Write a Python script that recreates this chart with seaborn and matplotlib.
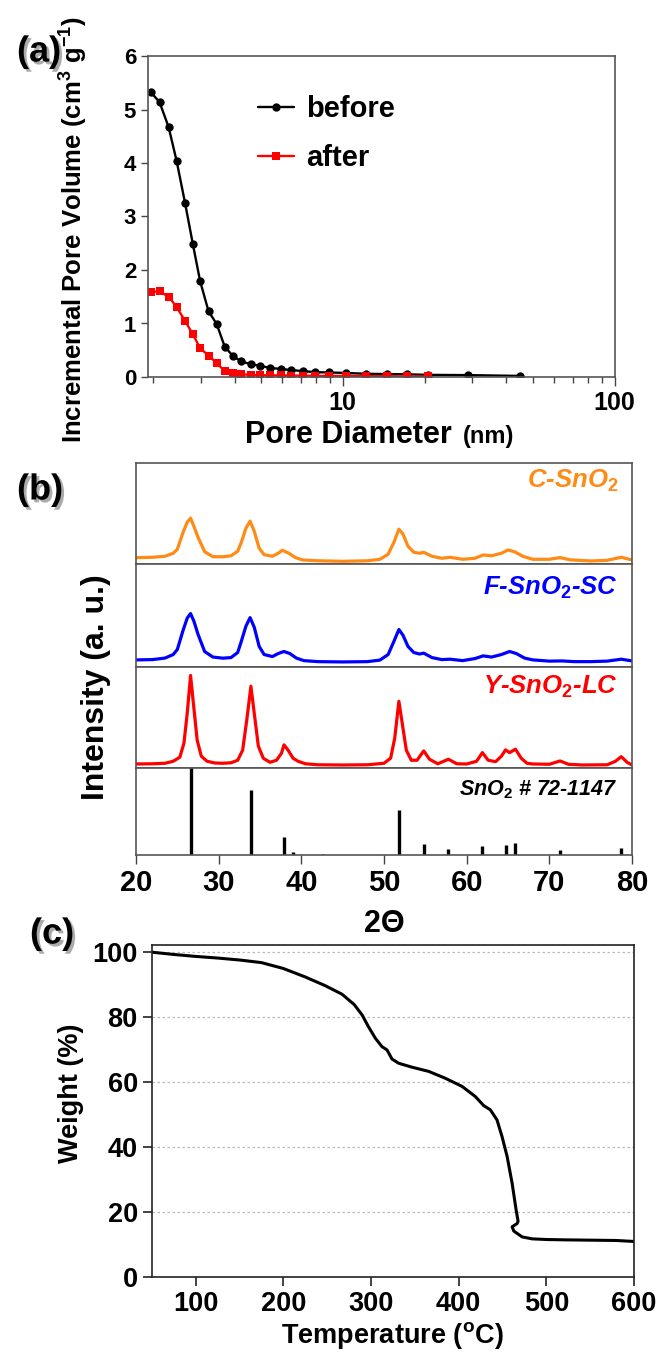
import matplotlib
matplotlib.use("Agg")
import matplotlib.pyplot as plt
import matplotlib.patheffects as pe
from matplotlib.ticker import FixedLocator, FixedFormatter, NullFormatter, LogLocator
import seaborn as sns

# (a) pore size distribution
before_d = [1.97, 2.12, 2.29, 2.45, 2.63, 2.81, 2.99, 3.21, 3.44, 3.68, 3.95, 4.24, 4.59,
            4.95, 5.41, 5.92, 6.47, 7.16, 7.92, 8.9, 10.3, 12.2, 14.5, 17.2, 20.6, 29.0, 44.9]
before_v = [5.32, 5.14, 4.67, 4.04, 3.26, 2.49, 1.79, 1.23, 0.99, 0.57, 0.39, 0.29, 0.24,
            0.21, 0.17, 0.15, 0.13, 0.11, 0.09, 0.085, 0.075, 0.06, 0.055, 0.05, 0.04, 0.035, 0.02]
after_d = [1.97, 2.12, 2.29, 2.45, 2.63, 2.81, 2.99, 3.21, 3.44, 3.68, 3.95, 4.24, 4.59,
           4.95, 5.41, 5.92, 6.47, 7.16, 7.92, 8.9, 10.3, 12.2, 14.5, 17.2, 20.6]
after_v = [1.59, 1.60, 1.50, 1.31, 1.05, 0.80, 0.54, 0.40, 0.26, 0.11, 0.07, 0.05, 0.04,
           0.035, 0.03, 0.03, 0.025, 0.025, 0.02, 0.02, 0.02, 0.015, 0.015, 0.01, 0.01]

# (b) XRD patterns (intensity in a.u.)
c_x = [20, 22, 23.5, 24.5, 25, 25.7, 26.2, 26.6, 27, 27.5, 28.3, 29.3, 30.5, 31.5, 32.3, 32.7,
       33.3, 33.8, 34.3, 34.9, 35.5, 36.5, 37.2, 37.7, 38.5, 39.3, 40.2, 42, 45, 48, 49.5, 50.5,
       51.2, 51.8, 52.3, 52.9, 53.6, 54.3, 54.8, 55.8, 57, 58, 59.5, 61, 62, 63, 64.2, 65, 65.8,
       66.8, 68, 70, 71.3, 72.5, 75, 77, 78.7, 80]
c_y = [6.6, 7, 8, 11, 15, 32, 42, 46, 38, 27, 12.6, 7.6, 7.5, 8.5, 13, 21,
       36, 43, 33, 16, 9.6, 8, 11, 14, 11, 6.6, 4.3, 3.5, 3, 3.5, 5, 10,
       22, 35, 30, 18, 12, 11, 12, 8, 6, 7, 5, 6, 9.3, 8.5, 11, 14.3, 12.5,
       8, 5, 5, 6.7, 4.5, 3.3, 4, 7, 4.3]
f_x = [20, 22, 23.5, 24.5, 25, 25.7, 26.2, 26.6, 27, 27.5, 28.3, 29.3, 30.5, 31.5, 32.3, 32.7,
       33.3, 33.8, 34.3, 34.9, 35.5, 36.5, 37.2, 37.9, 38.6, 39.4, 40.3, 42, 45, 48, 49.5, 50.5,
       51.2, 51.8, 52.3, 52.9, 53.6, 54.3, 54.8, 55.8, 57, 58, 59.5, 61, 62, 63, 64.2, 65.2, 66,
       67, 68, 70, 71.5, 73, 75, 77, 78.7, 80]
f_y = [6.7, 7, 8.5, 12, 17, 36, 48, 52.4, 45, 32, 15, 9.5, 8.4, 9, 14, 24,
       40, 48.4, 39, 20, 12, 10, 13, 15, 13, 8.5, 6, 5, 4.7, 5, 6.5, 12,
       25, 36.7, 31, 20, 14, 12.5, 13.4, 9, 7, 7.4, 6, 8, 10.7, 9.5, 12, 15, 13,
       8.5, 6.7, 5.5, 5.7, 5, 5, 5.5, 7.4, 5.7]
y_x = [20, 22, 23.5, 24.5, 25.3, 25.8, 26.2, 26.6, 27, 27.4, 27.9, 28.6, 29.5, 30.5, 31.5, 32.3,
       32.9, 33.4, 33.9, 34.3, 34.8, 35.4, 36.2, 37, 37.6, 37.9, 38.4, 39, 39.6, 40.5, 42, 45,
       48, 50, 50.8, 51.3, 51.8, 52.2, 52.7, 53.3, 54, 54.8, 55.5, 56.5, 57.8, 58.8, 60, 61.2,
       61.9, 62.6, 63.5, 64.2, 64.7, 65.2, 65.9, 66.6, 67.3, 68, 70, 71.3, 72.3, 74, 77, 78,
       78.7, 79.4, 80]
y_y = [4.3, 4.5, 5, 7, 11, 25, 55, 92.3, 60, 28, 12, 7, 5.3, 5, 5.5, 8,
       18, 48, 81.6, 55, 22, 10, 6, 8, 15, 23.3, 18, 10, 7, 4.5, 3.5, 3.3,
       3.5, 5, 10, 30, 66.6, 45, 18, 8, 8, 17.3, 9, 4.5, 9, 4.5, 4.3, 7,
       15.6, 8, 6.6, 12, 18.3, 15.6, 19, 10, 5, 4.3, 4, 7.3, 4, 3.3, 3.5, 7,
       11.6, 6, 3.3]
ref_pos = [26.6, 33.9, 37.9, 39.0, 42.6, 51.8, 54.8, 57.8, 61.9, 64.7, 65.9, 71.3, 78.7]
ref_h = [88, 65.7, 18, 3, 1.4, 44.7, 10.7, 6.4, 9, 10, 11.7, 4.7, 7.4]

# (c) TGA
temp = [50, 75, 100, 125, 150, 175, 200, 225, 248, 267, 281, 290, 297, 305, 312.6, 318.3,
        321, 324, 331.6, 346.8, 365.9, 384.8, 403.9, 419, 428.6, 436.2, 443.8, 449.5, 455.3,
        461, 465.5, 467.8, 466.7, 461, 462.9, 472.4, 483.8, 500, 520, 550, 580, 600]
weight = [99.8, 99.1, 98.5, 98.0, 97.4, 96.6, 94.8, 92.2, 89.5, 86.9, 83.7, 80.5, 77, 73.4,
          70.8, 69.8, 68.5, 67.0, 65.7, 64.5, 63.2, 61.1, 58.6, 55.5, 52.7, 51.4, 48.3, 43.2,
          37.1, 28.9, 20.8, 17.2, 16.5, 15.5, 14.2, 12.4, 11.8, 11.6, 11.5, 11.4, 11.3, 11.0]

sns.set_theme(style="ticks")
plt.rcParams['font.family'] = ['Liberation Sans', 'DejaVu Sans']
plt.rcParams['font.weight'] = 'bold'
plt.rcParams['text.color'] = 'black'
plt.rcParams['axes.labelcolor'] = 'black'
plt.rcParams['xtick.labelcolor'] = 'black'
plt.rcParams['ytick.labelcolor'] = 'black'
plt.rcParams['mathtext.fontset'] = 'custom'
plt.rcParams['mathtext.rm'] = 'Liberation Sans:bold'
plt.rcParams['mathtext.bf'] = 'Liberation Sans:bold'
plt.rcParams['mathtext.it'] = 'Liberation Sans:italic:bold'

W, H = 660, 1361
fig = plt.figure(figsize=(W / 100, H / 100), dpi=100)


def px_axes(left, top, right, bottom):
    return fig.add_axes([left / W, 1 - bottom / H, (right - left) / W, (bottom - top) / H])


def panel_label(x, y, s):
    fig.text(x / W, 1 - y / H, s, fontsize=26, fontweight='bold', ha='center', va='center',
             path_effects=[pe.SimplePatchShadow(offset=(2, -2), shadow_rgbFace='0.35', alpha=0.5),
                           pe.Normal()])


def style_spines(ax, color):
    for sp in ax.spines.values():
        sp.set_visible(True)
        sp.set_color(color)
        sp.set_linewidth(1.2)


# ---------------- (a) ----------------
ax_a = px_axes(148, 56, 614.7, 377)
sns.lineplot(x=before_d, y=before_v, ax=ax_a, color='black', marker='o', markersize=6,
             markeredgewidth=0, linewidth=1.7, label='before', sort=False, estimator=None)
sns.lineplot(x=after_d, y=after_v, ax=ax_a, color='#FF0000', marker='s', markersize=6,
             markeredgewidth=0, linewidth=1.7, label='after', sort=False, estimator=None)
ax_a.set_xscale('log')
ax_a.set_xlim(1.923, 100)
ax_a.set_ylim(0, 6)
ax_a.xaxis.set_major_locator(FixedLocator([10, 100]))
ax_a.xaxis.set_major_formatter(FixedFormatter(['10', '100']))
ax_a.xaxis.set_minor_locator(LogLocator(base=10, subs=range(2, 10)))
ax_a.xaxis.set_minor_formatter(NullFormatter())
ax_a.set_yticks(range(0, 7))
ax_a.tick_params(axis='y', labelsize=16, length=5, width=1, color='#444444')
ax_a.tick_params(axis='x', which='major', labelsize=18, length=6.5, width=1, color='#444444')
ax_a.tick_params(axis='x', which='minor', length=4, width=1, color='#444444')
style_spines(ax_a, '#555555')
ax_a.set_xlabel('')
ax_a.set_ylabel('Incremental Pore Volume (cm$^{3}$ g$^{-1}$)', fontsize=18.5, fontweight='bold')
ax_a.yaxis.set_label_coords(-0.125, 0.46)
ax_a.text(0.43, -0.205, 'Pore Diameter', transform=ax_a.transAxes, fontsize=22,
          fontweight='bold', ha='center', va='baseline')
ax_a.text(0.675, -0.205, '(nm)', transform=ax_a.transAxes, fontsize=17,
          fontweight='bold', ha='left', va='baseline')
ax_a.legend(loc='upper left', bbox_to_anchor=(0.235, 0.878), frameon=False,
            prop={'size': 21, 'weight': 'bold'}, handlelength=1.25, handletextpad=0.4,
            labelspacing=0.72, borderpad=0, borderaxespad=0)
panel_label(39, 52, '(a)')

# ---------------- (b) ----------------
edges = [463, 564.3, 666.7, 768.3, 855]
series = [(c_x, c_y, '#FF8A14', 'C-SnO$_\\mathit{2}$'),
          (f_x, f_y, '#0000FF', 'F-SnO$_\\mathit{2}$-SC'),
          (y_x, y_y, '#FF0000', 'Y-SnO$_\\mathit{2}$-LC')]
label_y = [0.82, 0.77, 0.80]
for i, (xs, ys, col, name) in enumerate(series):
    ax = px_axes(136, edges[i], 632, edges[i + 1])
    sns.lineplot(x=xs, y=ys, ax=ax, color=col, linewidth=2.3, sort=False, estimator=None)
    ax.set_xlim(20, 80)
    ax.set_ylim(0, 101)
    ax.set_xticks([])
    ax.set_yticks([])
    ax.set_xlabel('')
    ax.set_ylabel('')
    style_spines(ax, '#555555')
    ax.text(0.972, label_y[i], name, transform=ax.transAxes, color=col, fontsize=18.5,
            fontweight='bold', fontstyle='italic', ha='right', va='center')

ax_r = px_axes(136, edges[3], 632, edges[4])
ax_r.vlines(ref_pos, 0, ref_h, color='black', linewidth=2.4)
ax_r.set_xlim(20, 80)
ax_r.set_ylim(0, 87)
ax_r.set_yticks([])
ax_r.set_xticks(range(20, 81, 10))
ax_r.tick_params(axis='x', labelsize=21, length=6.5, width=1, color='#444444')
style_spines(ax_r, '#555555')
ax_r.text(0.972, 0.75, 'SnO$_\\mathit{2}$ # 72-1147', transform=ax_r.transAxes, color='black',
          fontsize=15.5, fontweight='bold', fontstyle='italic', ha='right', va='center')
ax_r.set_xlabel('2\u0398', fontsize=22, fontweight='bold', labelpad=9)
fig.text(96 / W, 1 - 686.7 / H, 'Intensity (a. u.)', rotation=90, fontsize=23,
         fontweight='bold', ha='center', va='center')
panel_label(40, 490, '(b)')

# ---------------- (c) ----------------
ax_c = px_axes(151.7, 945, 634, 1277.3)
sns.lineplot(x=temp, y=weight, ax=ax_c, color='black', linewidth=2.2, sort=False, estimator=None)
ax_c.set_xlim(50, 600)
ax_c.set_ylim(0, 102)
ax_c.set_xticks(range(100, 601, 100))
ax_c.set_yticks(range(0, 101, 20))
for gy in range(20, 101, 20):
    ax_c.axhline(gy, color='#BBBBBB', linewidth=0.9, linestyle=(0, (2, 2)), zorder=0)
ax_c.tick_params(axis='both', labelsize=19.5, length=6.5, width=1.2, color='#222222')
style_spines(ax_c, '#222222')
ax_c.set_xlabel('Temperature ($^\\mathrm{o}$C)', fontsize=19.5, fontweight='bold')
ax_c.set_ylabel('Weight (%)', fontsize=19.5, fontweight='bold')
ax_c.yaxis.set_label_coords(-0.14, 0.555)
ax_c.xaxis.set_label_coords(0.5, -0.13)
panel_label(52, 934, '(c)')

fig.savefig('out.png', dpi=100)
